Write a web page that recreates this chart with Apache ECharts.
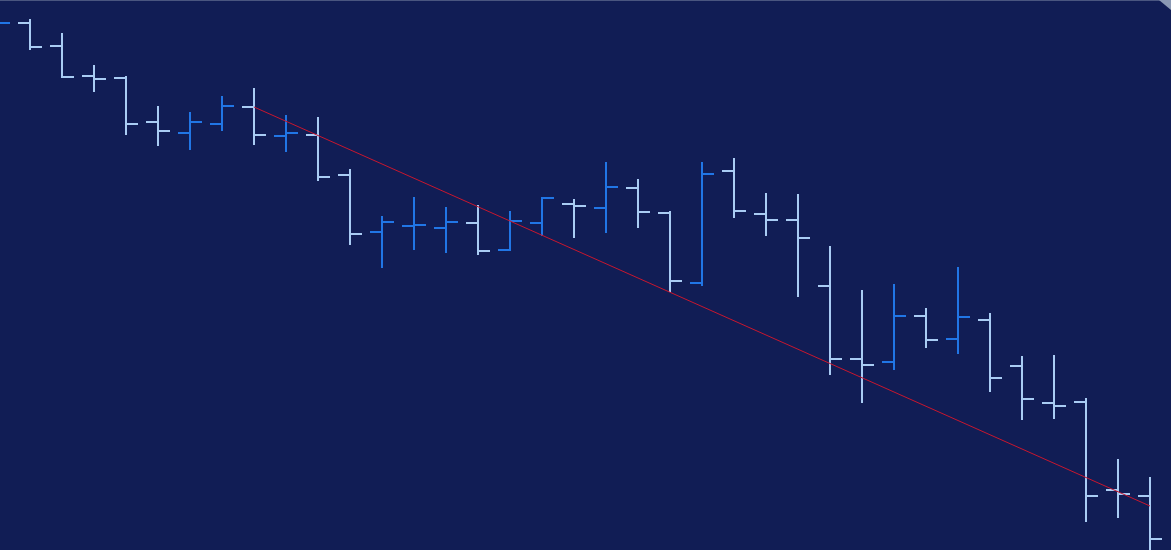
<!DOCTYPE html>
<html>
<head>
<meta charset="utf-8">
<script src="https://cdn.jsdelivr.net/npm/echarts@6/dist/echarts.min.js"></script>
<style>
html,body{margin:0;padding:0;background:#111d55;}
#chart{width:1171px;height:550px;}
</style>
</head>
<body>
<div id="chart"></div>
<script>
// Bar index (session number)
const sessions = [0,1,2,3,4,5,6,7,8,9,10,11,12,13,14,15,16,17,18,19,20,21,22,23,24,25,26,27,28,29,30,31,32,33,34,35,36];
// OHLC prices
const opens  = [52.0,52.7,50.4,47.4,47.2,42.8,41.7,42.6,44.3,41.4,41.5,37.5,31.8,32.4,32.2,32.7,30.0,32.7,34.6,34.2,36.2,33.7,26.7,37.9,33.6,33.0,26.4,19.1,18.8,23.4,21.1,23.0,18.4,14.7,14.8,6.0,5.4];
const highs  = [53.5,53.1,51.7,48.5,47.4,44.4,43.8,45.4,46.2,43.5,43.3,38.1,33.4,35.3,34.3,34.5,33.9,35.3,35.1,38.8,37.1,33.9,38.8,39.2,35.7,35.6,30.4,26.0,26.6,24.2,28.3,23.7,19.4,19.5,15.2,9.1,7.3];
const lows   = [51.5,50.0,47.2,45.8,41.5,40.4,40.0,41.9,40.5,39.8,36.9,30.5,28.2,30.0,29.7,29.5,29.9,31.4,31.2,31.7,32.2,25.8,26.4,33.2,31.4,25.3,17.5,14.7,18.0,20.2,19.6,15.8,13.0,13.1,2.8,3.2,-1.0];
const closes = [52.7,50.3,47.3,47.1,42.6,41.9,42.8,44.4,41.5,41.7,37.3,31.6,32.8,32.5,32.8,29.9,32.9,35.2,34.4,36.3,33.8,26.9,37.6,33.9,33.0,31.2,19.1,18.5,23.4,21.0,23.3,17.2,15.1,14.4,5.4,5.6,1.1];
// Trend line anchors [session, price]
const trendStart = [8, 44.3];
const trendEnd = [36, 4.4];

const UP = '#2176e6', DOWN = '#a9ccf4';
const ohlc = sessions.map((s, i) => [s, opens[i], highs[i], lows[i], closes[i]]);

const chart = echarts.init(document.getElementById('chart'), null, {renderer: 'canvas'});
chart.setOption({
  backgroundColor: '#111d55',
  animation: false,
  grid: {left: 0, right: 0, top: 0, bottom: 0},
  xAxis: {type: 'value', min: 0.0625, max: 36.65625, show: false},
  yAxis: {type: 'value', min: 0, max: 55, show: false},
  series: [
    {
      type: 'custom',
      clip: true,
      data: ohlc,
      encode: {x: 0, y: [1, 2, 3, 4]},
      renderItem: function (params, api) {
        const x = api.value(0);
        const o = api.coord([x, api.value(1)]);
        const h = api.coord([x, api.value(2)]);
        const l = api.coord([x, api.value(3)]);
        const c = api.coord([x, api.value(4)]);
        const color = api.value(4) >= api.value(1) ? UP : DOWN;
        const tick = 12;
        const style = {stroke: color, lineWidth: 2};
        return {
          type: 'group',
          children: [
            {type: 'line', shape: {x1: h[0], y1: h[1], x2: l[0], y2: l[1]}, style: style},
            {type: 'line', shape: {x1: o[0] - tick, y1: o[1], x2: o[0], y2: o[1]}, style: style},
            {type: 'line', shape: {x1: c[0], y1: c[1], x2: c[0] + tick, y2: c[1]}, style: style}
          ]
        };
      }
    },
    {
      type: 'line',
      data: [trendStart, trendEnd],
      symbol: 'none',
      lineStyle: {color: '#c8162e', width: 1},
      z: 5
    }
  ],
  graphic: [
    {type: 'rect', shape: {x: 0, y: 0, width: 1171, height: 1}, style: {fill: '#4a5680'}},
    {type: 'polygon', shape: {points: [[1159, 0], [1171, 0], [1171, 10]]}, style: {fill: '#8a98b4'}}
  ]
});
</script>
</body>
</html>
